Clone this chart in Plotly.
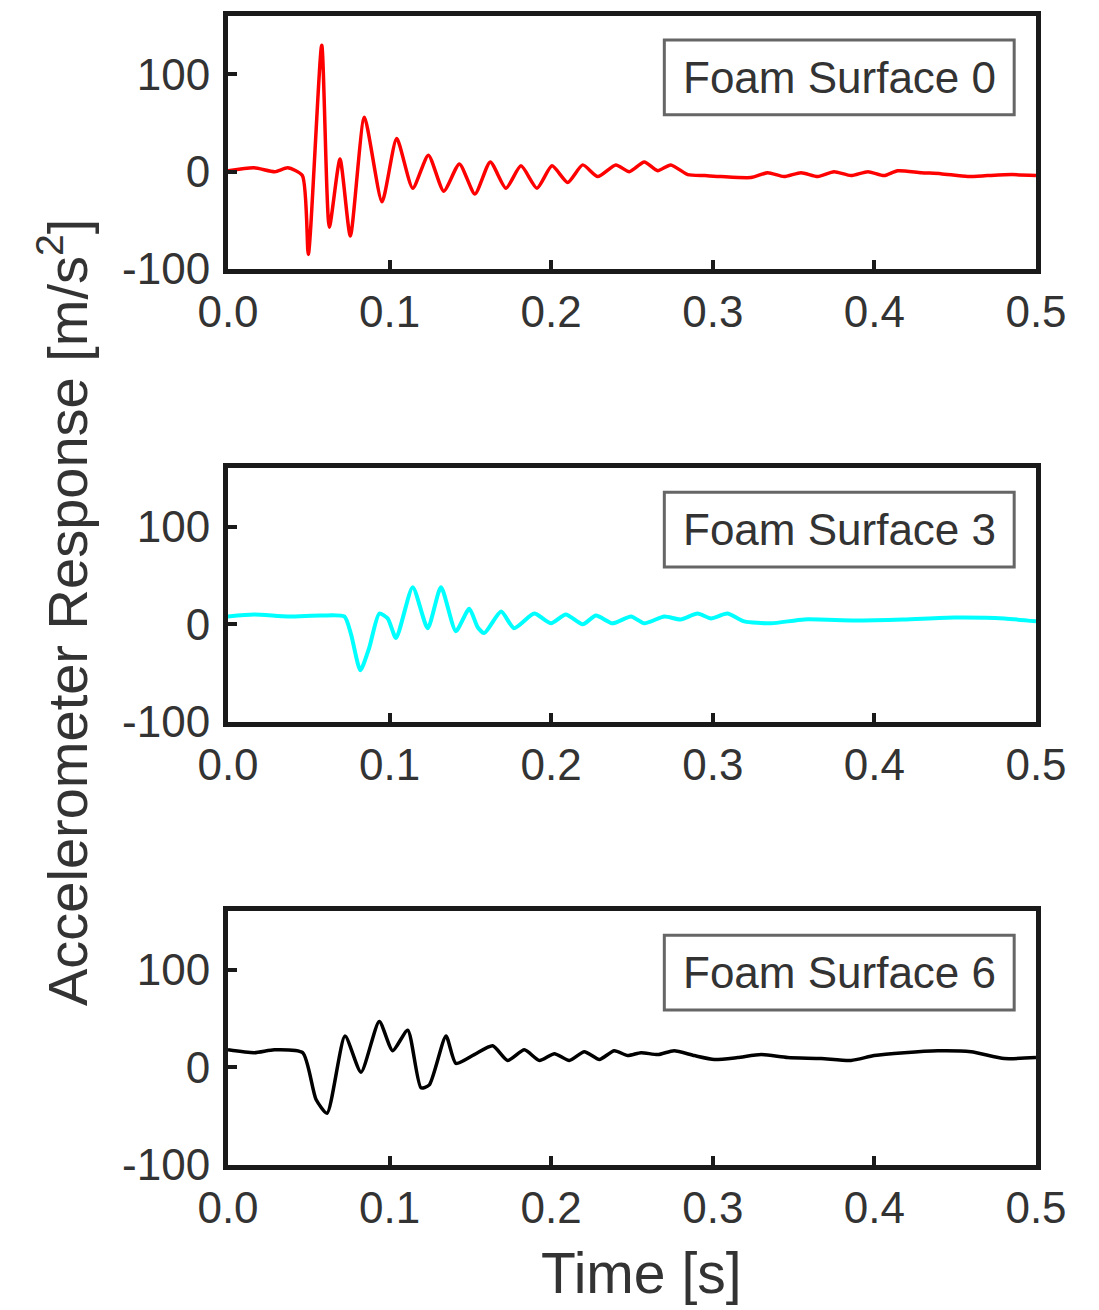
import plotly.graph_objects as go

t_foam0 = [0.0, 0.016, 0.029, 0.037, 0.046, 0.0497, 0.058, 0.0627, 0.0693, 0.0757,
           0.0844, 0.0953, 0.1044, 0.1143, 0.124, 0.1335, 0.1432, 0.1528, 0.1623, 0.172,
           0.1813, 0.1912, 0.2005, 0.2102, 0.2195, 0.2288, 0.240, 0.2483, 0.2576, 0.2659,
           0.274, 0.2845, 0.295, 0.305, 0.3236, 0.334, 0.344, 0.3546, 0.365, 0.375,
           0.3855, 0.396, 0.406, 0.4144, 0.429, 0.441, 0.4577, 0.47, 0.485, 0.5]
a_foam0 = [1, 4, 0, 4, -4, -85, 130, -57, 13, -66,
           56, -31, 34, -17, 17, -20, 8, -23, 10, -17,
           6, -17, 6, -11, 7, -5, 7, 0, 10, 1,
           7, -3, -4, -5, -6, -1, -5, -1, -5, 0,
           -4, 0, -4, 1, -1, -2, -5, -4, -3, -4]

t_foam3 = [0.0, 0.016, 0.037, 0.0575, 0.072, 0.0761, 0.0819, 0.0874, 0.0936, 0.0988,
           0.104, 0.1143, 0.1236, 0.1318, 0.141, 0.1493, 0.1545, 0.1586, 0.169, 0.177,
           0.1895, 0.1999, 0.209, 0.2195, 0.2277, 0.238, 0.2494, 0.2576, 0.27, 0.28,
           0.2906, 0.2989, 0.309, 0.3195, 0.336, 0.3566, 0.3876, 0.418, 0.4494, 0.4804, 0.5]
a_foam3 = [8, 10, 8, 9, 8, -10, -47, -24, 11, 6,
           -14, 38, -4, 38, -7, 16, -3, -9, 13, -4,
           11, 1, 10, 0, 9, 1, 8, 1, 8, 5,
           11, 6, 11, 3, 1, 5, 4, 5, 7, 6, 3]

t_foam6 = [0.0, 0.0163, 0.0287, 0.0462, 0.0545, 0.0613, 0.0724, 0.0823, 0.0936, 0.1019,
           0.1112, 0.1194, 0.1246, 0.1349, 0.141, 0.1524, 0.1638, 0.173, 0.1834, 0.1927,
           0.202, 0.2112, 0.2205, 0.2298, 0.239, 0.2473, 0.2556, 0.266, 0.276, 0.2886,
           0.301, 0.3154, 0.33, 0.3464, 0.367, 0.3855, 0.3999, 0.4185, 0.4392, 0.4598, 0.4804, 0.5]
a_foam6 = [18, 15, 18, 15, -33, -47, 32, -5, 47, 17,
           38, -21, -18, 32, 4, 13, 22, 7, 18, 7,
           14, 7, 16, 8, 17, 12, 15, 13, 17, 12,
           8, 10, 13, 10, 9, 7, 12, 15, 17, 16, 9, 10]

labels = ["Foam Surface 0", "Foam Surface 3", "Foam Surface 6"]
x_ticks = [0.0, 0.1, 0.2, 0.3, 0.4, 0.5]
x_ticktext = ["0.0", "0.1", "0.2", "0.3", "0.4", "0.5"]
y_ticks = [-100, 0, 100]
y_ticktext = ["-100", "0", "100"]

W, H = 1099, 1310
OFF = 7  # page body margin, positions below are measured on the screenshot
FONT = "Arial, Liberation Sans, sans-serif"
TXT = "#333333"


def px_x(p):
    return (p - OFF) / W


def px_y(p):
    return 1 - (p - OFF) / H


series = [(t_foam0, a_foam0, "#ff0000", 3.5),
          (t_foam3, a_foam3, "#00ffff", 4),
          (t_foam6, a_foam6, "#000000", 3.5)]
y_doms = [(px_y(268), px_y(15)), (px_y(721), px_y(467)), (px_y(1164), px_y(910))]
x_dom = [px_x(227), px_x(1035)]

fig = go.Figure()
layout = {}
shapes, annots = [], []
for i, ((t, a, col, lw), dom) in enumerate(zip(series, y_doms)):
    n = "" if i == 0 else str(i + 1)
    fig.add_trace(go.Scatter(x=t, y=a, mode="lines", xaxis="x" + n, yaxis="y" + n,
                             line=dict(color=col, width=lw, shape="spline", smoothing=0.6),
                             showlegend=False))
    axstyle = dict(showline=True, linewidth=5, linecolor="#1a1a1a", mirror=True,
                   ticks="inside", ticklen=9, tickwidth=4, tickcolor="#1a1a1a",
                   showgrid=False, zeroline=False, automargin=False,
                   tickfont=dict(family=FONT, size=44, color=TXT))
    layout["xaxis" + n] = dict(domain=x_dom, range=[0, 0.5], anchor="y" + n,
                               tickvals=x_ticks, ticktext=x_ticktext, **axstyle)
    layout["yaxis" + n] = dict(domain=list(dom), range=[-100, 160], anchor="x" + n,
                               tickvals=y_ticks, ticktext=y_ticktext,
                               ticklabelstandoff=4, **axstyle)
    shapes.append(dict(type="rect", xref="x" + n + " domain", yref="y" + n + " domain",
                       x0=0.54, x1=0.973, y0=0.61, y1=0.905,
                       line=dict(color="#666666", width=3), fillcolor="white"))
    annots.append(dict(text=labels[i], xref="x" + n + " domain", yref="y" + n + " domain",
                       x=0.7565, y=0.757, xanchor="center", yanchor="middle", showarrow=False,
                       font=dict(family=FONT, size=44, color=TXT)))

annots.append(dict(text="Time [s]", xref="paper", yref="paper", x=px_x(640), y=px_y(1272),
                   xanchor="center", yanchor="middle", showarrow=False,
                   font=dict(family=FONT, size=57, color=TXT)))
annots.append(dict(text="Accelerometer Response [m/s<sup>2</sup>]", xref="paper", yref="paper",
                   x=px_x(62), y=px_y(612), textangle=-90, xanchor="center", yanchor="middle",
                   showarrow=False, font=dict(family=FONT, size=56, color=TXT)))

fig.update_layout(width=W, height=H, autosize=False, margin=dict(l=0, r=0, t=0, b=0),
                  plot_bgcolor="white", paper_bgcolor="white",
                  shapes=shapes, annotations=annots, **layout)
fig.write_html("out.html")
